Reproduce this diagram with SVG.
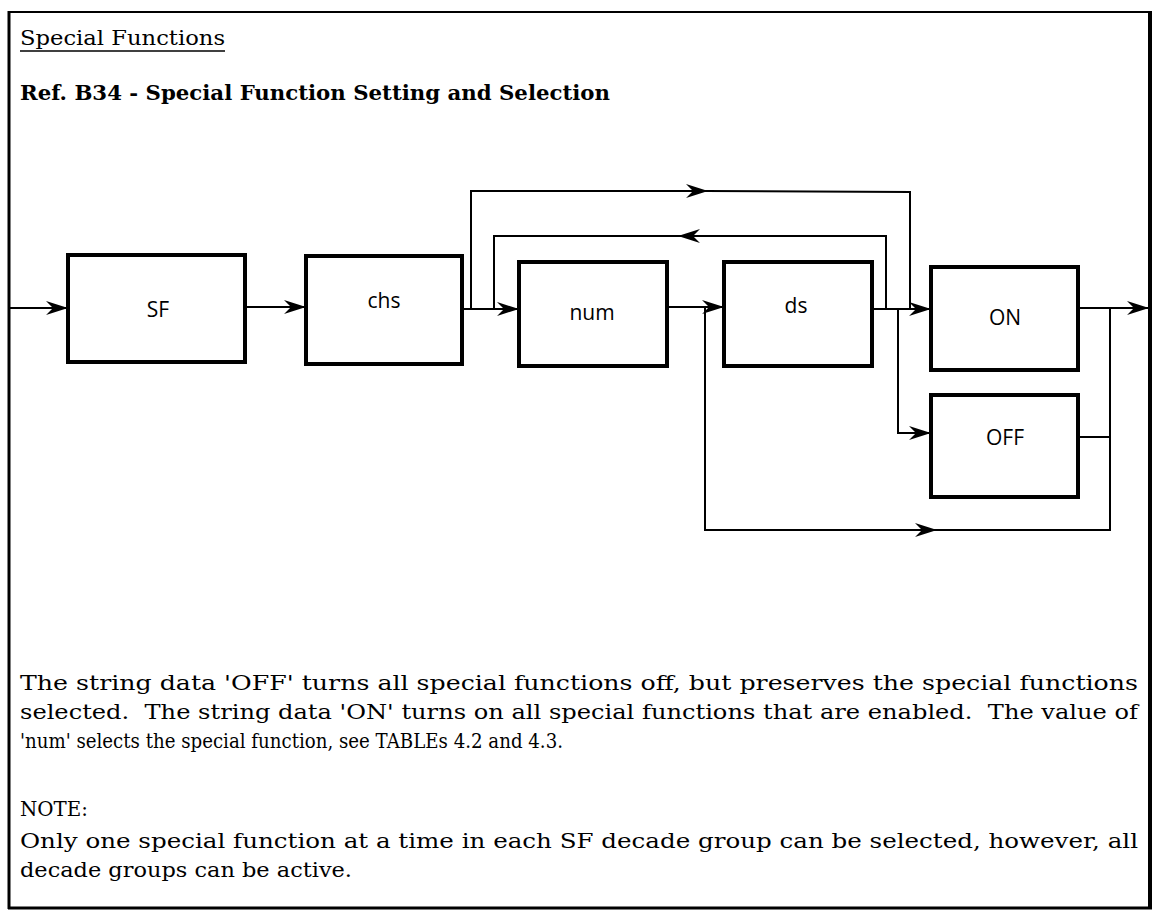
<svg xmlns="http://www.w3.org/2000/svg" width="1157" height="917" viewBox="0 0 1157 917">
<style>
.box{fill:#fff;stroke:#000;stroke-width:4}
.lbl{font-family:"Open Sans","Noto Sans",sans-serif;font-size:21px;fill:#000;text-anchor:middle}
.ln{fill:none;stroke:#000;stroke-width:2}
.ser{font-family:"DejaVu Serif","Liberation Serif",serif;font-size:20px;fill:#000}
.pre{white-space:pre}
</style>
<defs>
<marker id="ah" viewBox="0 0 22 14" refX="22" refY="7" markerWidth="22" markerHeight="14" markerUnits="userSpaceOnUse" orient="auto">
<path d="M0,0 L22,7 L0,14 L7,7 z" fill="#000"/>
</marker>
</defs>
<rect x="0" y="0" width="1157" height="917" fill="#fff"/>
<g id="frame">
<path d="M9,12 L1150,12" stroke="#000" stroke-width="2" fill="none"/>
<path d="M9,11 L9,909" stroke="#000" stroke-width="3" fill="none"/>
<path d="M1150,11 L1150,909" stroke="#000" stroke-width="4" fill="none"/>
<path d="M8,908 L1152,908" stroke="#000" stroke-width="3" fill="none"/>
</g>
<g id="title">
<text class="ser" x="20" y="45" textLength="205" lengthAdjust="spacingAndGlyphs">Special Functions</text>
<path d="M20,51 L225,51" stroke="#000" stroke-width="1.5"/>
<text class="ser" x="20" y="100" font-weight="bold" textLength="590" lengthAdjust="spacingAndGlyphs">Ref. B34 - Special Function Setting and Selection</text>
</g>
<g id="connectors">
<path class="ln" d="M9,308 L68,308" marker-end="url(#ah)"/>
<path class="ln" d="M245,307 L306,307" marker-end="url(#ah)"/>
<path class="ln" d="M462,309 L519,309" marker-end="url(#ah)"/>
<path class="ln" d="M667,307 L724,307" marker-end="url(#ah)"/>
<path class="ln" d="M872,309 L931,309" marker-end="url(#ah)"/>
<path class="ln" d="M1078,308 L1149,308" marker-end="url(#ah)"/>
<path class="ln" d="M471,309 L471,191 L708,191" marker-end="url(#ah)"/>
<path class="ln" d="M706,191 L910,192 L910,309"/>
<path class="ln" d="M886,309 L886,236 L678,236" marker-end="url(#ah)"/>
<path class="ln" d="M680,236 L494,236 L494,309"/>
<path class="ln" d="M705,307 L705,530 L937,530" marker-end="url(#ah)"/>
<path class="ln" d="M935,530 L1110,530 L1110,308"/>
<path class="ln" d="M898,309 L898,433 L931,433" marker-end="url(#ah)"/>
<path class="ln" d="M1078,437 L1110,437"/>
</g>
<g id="node-sf"><rect class="box" x="68" y="255" width="177" height="107"/><text class="lbl" x="158" y="317">SF</text></g>
<g id="node-chs"><rect class="box" x="306" y="256" width="156" height="108"/><text class="lbl" x="384" y="308">chs</text></g>
<g id="node-num"><rect class="box" x="519" y="262" width="148" height="104"/><text class="lbl" x="592" y="320">num</text></g>
<g id="node-ds"><rect class="box" x="724" y="262" width="148" height="104"/><text class="lbl" x="796" y="313">ds</text></g>
<g id="node-on"><rect class="box" x="931" y="267" width="147" height="103"/><text class="lbl" x="1005" y="325">ON</text></g>
<g id="node-off"><rect class="box" x="931" y="395" width="147" height="102"/><text class="lbl" x="1005" y="445">OFF</text></g>
<g id="body">
<text class="ser" x="20" y="690" textLength="1118" lengthAdjust="spacingAndGlyphs">The string data 'OFF' turns all special functions off, but preserves the special functions</text>
<text class="ser pre" x="20" y="719" textLength="1118" lengthAdjust="spacingAndGlyphs">selected.  The string data 'ON' turns on all special functions that are enabled.  The value of</text>
<text class="ser" x="20" y="748" textLength="543" lengthAdjust="spacingAndGlyphs">'num' selects the special function, see TABLEs 4.2 and 4.3.</text>
<text class="ser" x="20" y="816" textLength="68" lengthAdjust="spacingAndGlyphs">NOTE:</text>
<text class="ser" x="20" y="848" textLength="1118" lengthAdjust="spacingAndGlyphs">Only one special function at a time in each SF decade group can be selected, however, all</text>
<text class="ser" x="20" y="877" textLength="332" lengthAdjust="spacingAndGlyphs">decade groups can be active.</text>
</g>
</svg>
